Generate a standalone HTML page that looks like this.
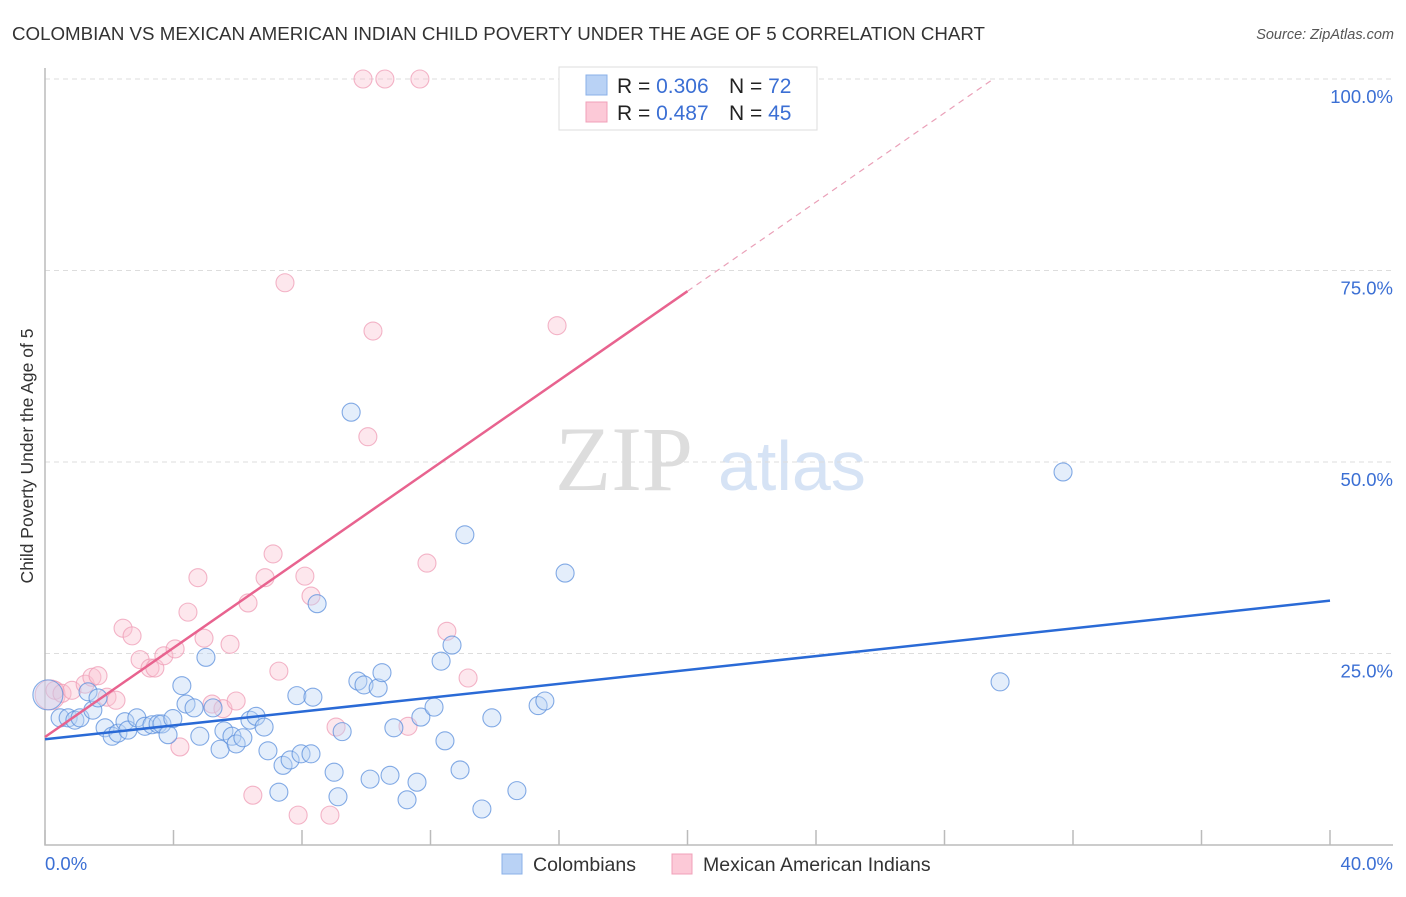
<!DOCTYPE html>
<html><head><meta charset="utf-8"><style>
body{margin:0;background:#fff;font-family:"Liberation Sans",sans-serif;}
svg text{font-family:"Liberation Sans",sans-serif;}
</style></head><body>
<svg id="chart" width="1406" height="892" xmlns="http://www.w3.org/2000/svg">
<text x="12" y="40" font-size="18" fill="#333" textLength="973" lengthAdjust="spacingAndGlyphs">COLOMBIAN VS MEXICAN AMERICAN INDIAN CHILD POVERTY UNDER THE AGE OF 5 CORRELATION CHART</text>
<text x="1394" y="39" font-size="14.5" fill="#555" text-anchor="end" font-style="italic">Source: ZipAtlas.com</text>
<text transform="translate(33,456) rotate(-90)" font-size="17.5" fill="#333" text-anchor="middle">Child Poverty Under the Age of 5</text>
<g>
<text x="555" y="490" font-size="92" fill="#ddd" style="font-family:'Liberation Serif',serif">ZIP</text>
<text x="718" y="490" font-size="70" fill="#d6e3f5">atlas</text>
</g>
<g id="grid"></g>
<g id="axes"></g>
<g id="marks"></g>
<g>
<rect x="559" y="67" width="258" height="63" fill="#fff" stroke="#ddd"/>
<rect x="586" y="75" width="21" height="20" fill="#b9d2f5" stroke="#8ab0e8"/>
<rect x="586" y="102" width="21" height="20" fill="#fcc9d7" stroke="#f0a0b8"/>
<text x="617" y="93" font-size="21" fill="#222">R = <tspan fill="#3b6fd4">0.306</tspan></text>
<text x="729" y="93" font-size="21" fill="#222">N = <tspan fill="#3b6fd4">72</tspan></text>
<text x="617" y="120" font-size="21" fill="#222">R = <tspan fill="#3b6fd4">0.487</tspan></text>
<text x="729" y="120" font-size="21" fill="#222">N = <tspan fill="#3b6fd4">45</tspan></text>
</g>
<g>
<rect x="502" y="854" width="20" height="20" fill="#b9d2f5" stroke="#8ab0e8"/>
<text x="533" y="871" font-size="19.5" fill="#333">Colombians</text>
<rect x="672" y="854" width="20" height="20" fill="#fcc9d7" stroke="#f0a0b8"/>
<text x="703" y="871" font-size="19.5" fill="#333">Mexican American Indians</text>
</g>
</svg>
<script>
const blueX=[0.09,0.47,0.72,0.93,1.09,1.34,1.49,1.65,1.87,2.09,2.27,2.49,2.58,2.86,3.11,3.33,3.52,3.64,3.83,3.98,4.26,4.39,4.64,4.82,5.01,5.23,5.45,5.57,5.82,5.95,6.16,6.38,6.57,6.82,6.94,7.28,7.41,7.63,7.97,7.84,8.28,8.34,8.47,9.00,9.12,9.25,9.53,9.74,9.93,10.12,10.37,10.49,10.74,10.86,11.27,11.58,11.70,12.11,12.33,12.45,12.67,12.92,13.07,13.60,13.91,14.69,15.35,15.56,16.19,29.73,31.69];
const blueY=[19.6,16.6,16.6,16.3,16.6,20.0,17.6,19.2,15.3,14.2,14.6,16.1,15.0,16.6,15.5,15.7,15.8,15.8,14.4,16.5,20.8,18.4,17.9,14.2,24.5,17.9,12.5,14.9,14.2,13.2,14.0,16.3,16.8,15.4,12.3,6.9,10.4,11.1,11.9,19.5,11.9,19.3,31.5,9.5,6.3,14.8,56.5,21.4,20.9,8.6,20.5,22.5,9.1,15.3,5.9,8.2,16.7,18.0,24.0,13.6,26.1,9.8,40.5,4.7,16.6,7.1,18.2,18.8,35.5,21.3,48.7];
const pinkX=[0.16,0.31,0.53,0.84,1.25,1.46,1.65,1.93,2.21,2.43,2.71,2.96,3.27,3.42,3.70,4.05,4.20,4.45,4.76,4.95,5.20,5.54,5.76,5.95,6.32,6.47,6.85,7.10,7.28,7.47,7.88,8.09,8.28,8.87,9.06,9.90,10.05,10.21,10.58,11.30,11.67,11.89,12.51,13.17,15.94];
const pinkY=[19.6,20.2,19.8,20.2,21.0,21.9,22.1,19.3,18.9,28.3,27.3,24.2,23.1,23.1,24.7,25.6,12.8,30.4,34.9,27.0,18.4,17.8,26.2,18.8,31.6,6.5,34.9,38.0,22.7,73.4,3.9,35.1,32.5,3.9,15.4,100,53.3,67.1,100,15.5,100,36.8,27.9,21.8,67.8];
const yTicks=[25,50,75,100];
const yTickLabels=["25.0%","50.0%","75.0%","100.0%"];
const xTicks=[0,4,8,12,16,20,24,28,32,36,40];
const blueLine=[13.8,31.9];
const pinkLine=[14.1,72.3];
const pinkSolidEnd=20;
const NS="http://www.w3.org/2000/svg";
const sx=v=>45+v*32.125, sy=v=>845-v*7.66;
function mk(t,a,p){const e=document.createElementNS(NS,t);for(const k in a)e.setAttribute(k,a[k]);p.appendChild(e);return e;}
const grid=document.getElementById('grid'),axes=document.getElementById('axes'),marks=document.getElementById('marks');
yTicks.forEach((v,i)=>{
 const l=mk('line',{x1:45,x2:1393,y1:sy(v),y2:sy(v),stroke:'#ddd','stroke-dasharray':'5,4'},grid);
 
 
 const t=mk('text',{x:1393,y:sy(v)+24,'font-size':18.5,fill:'#3b6fd4','text-anchor':'end'},axes);
 t.textContent=yTickLabels[i];
 
 
});
const ax=mk('path',{d:'M45,68 V845 H1393',fill:'none',stroke:'#bbb','stroke-width':1.5},axes);


xTicks.forEach(v=>{
 const l=mk('line',{x1:sx(v),x2:sx(v),y1:830,y2:845,stroke:'#bbb','stroke-width':1.5},axes);
 
 
});
[[0,'0.0%','start',45],[40,'40.0%','end',1393]].forEach(a=>{
 const t=mk('text',{x:a[3],y:870,'font-size':18.5,fill:'#3b6fd4','text-anchor':a[2]},axes);
 t.textContent=a[1];
 
 
});
function pts(X,Y,fill,stroke,name){
 X.forEach((x,i)=>{
  const r=(x<0.2)?15:9;
  const c=mk('circle',{cx:sx(x),cy:sy(Y[i]),r:r,fill:fill,'fill-opacity':0.4,stroke:stroke,'stroke-opacity':0.75,'stroke-width':1.1},marks);
  
  
 });
}
pts(pinkX,pinkY,'#fbc4d3','#ef9cb5','pink-point');
pts(blueX,blueY,'#bcd4f4','#5b8fdc','blue-point');
const bl=mk('line',{x1:sx(0),y1:sy(blueLine[0]),x2:sx(40),y2:sy(blueLine[1]),stroke:'#2a6ad6','stroke-width':2.5},marks);


const slope=(pinkLine[1]-pinkLine[0])/20;
const pl=mk('line',{x1:sx(0),y1:sy(pinkLine[0]),x2:sx(pinkSolidEnd),y2:sy(pinkLine[0]+slope*pinkSolidEnd),stroke:'#e8638f','stroke-width':2.5},marks);


const xEnd=(100-pinkLine[0])/slope;
const pd=mk('line',{x1:sx(pinkSolidEnd),y1:sy(pinkLine[0]+slope*pinkSolidEnd),x2:sx(xEnd),y2:sy(100),stroke:'#eaa0b8','stroke-width':1.2,'stroke-dasharray':'6,5'},marks);


</script>
</body></html>
